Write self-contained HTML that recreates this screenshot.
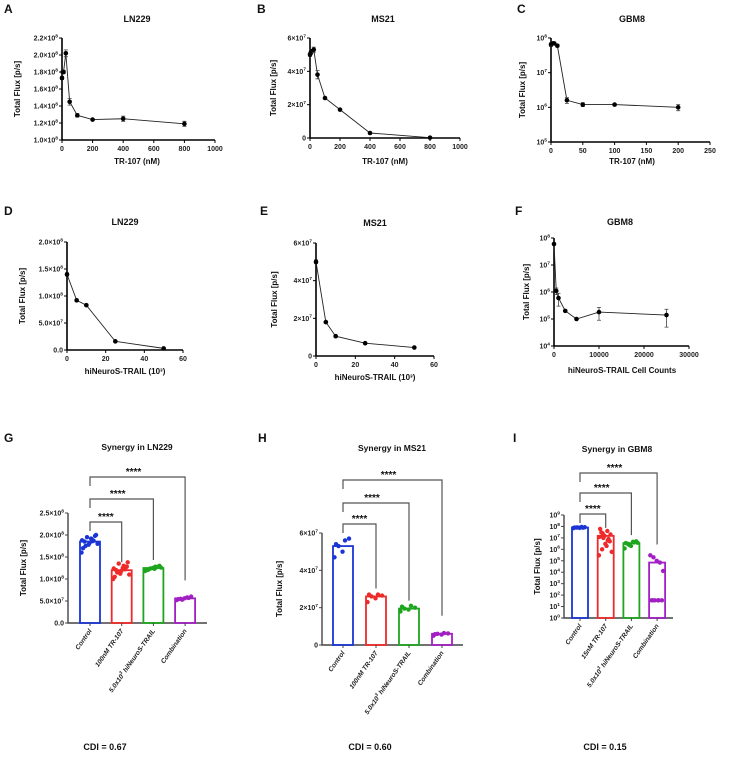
<!DOCTYPE html>
<html><head><meta charset="utf-8">
<style>
html,body{margin:0;padding:0;background:#fff;}
svg{display:block;font-family:"Liberation Sans",Arial,sans-serif;}
</style></head>
<body>
<svg id="fig" width="731" height="765" viewBox="0 0 731 765" xmlns="http://www.w3.org/2000/svg"></svg>
<script>
// ---------- DATA ----------
const aX=[0,5,10,25,50,100,200,400,800];
const aY=[1.73e8,1.80e8,1.80e8,2.02e8,1.45e8,1.29e8,1.24e8,1.25e8,1.19e8];
const aE=[0.02e8,0.02e8,0.02e8,0.04e8,0.04e8,0.02e8,0.01e8,0.03e8,0.03e8];
const aYT=["1.0×10^8","1.2×10^8","1.4×10^8","1.6×10^8","1.8×10^8","2.0×10^8","2.2×10^8"];
const aYV=[1.0e8,1.2e8,1.4e8,1.6e8,1.8e8,2.0e8,2.2e8];
const aXT=[0,200,400,600,800,1000];

const bX=[0,5,10,25,50,100,200,400,800];
const bY=[5.0e7,5.1e7,5.2e7,5.3e7,3.8e7,2.4e7,1.7e7,0.3e7,0.02e7];
const bE=[0.1e7,0.1e7,0.1e7,0.15e7,0.25e7,0.05e7,0.05e7,0.05e7,0.02e7];
const bYT=["0","2×10^7","4×10^7","6×10^7"];
const bYV=[0,2e7,4e7,6e7];
const bXT=[0,200,400,600,800,1000];

const cX=[0,2.5,5,10,25,50,100,200];
const cY=[6.5e7,7.0e7,7.0e7,6.0e7,1.6e6,1.2e6,1.2e6,1.0e6];
const cE=[0.8e7,0.8e7,0.5e7,0.5e7,0.3e6,0.15e6,0.1e6,0.2e6];
const cYT=["10^5","10^6","10^7","10^8"];
const cYV=[1e5,1e6,1e7,1e8];
const cXT=[0,50,100,150,200,250];

const dX=[0,5,10,25,50];
const dY=[1.40e8,0.92e8,0.83e8,0.16e8,0.03e8];
const dE=[0.03e8,0.02e8,0.02e8,0.01e8,0.01e8];
const dYT=["0.0","5.0×10^7","1.0×10^8","1.5×10^8","2.0×10^8"];
const dYV=[0,0.5e8,1.0e8,1.5e8,2.0e8];
const dXT=[0,20,40,60];

const eX=[0,5,10,25,50];
const eY=[5.0e7,1.8e7,1.05e7,0.68e7,0.45e7];
const eE=[0.1e7,0.05e7,0.05e7,0.03e7,0.03e7];
const eYT=["0","2×10^7","4×10^7","6×10^7"];
const eYV=[0,2e7,4e7,6e7];
const eXT=[0,20,40,60];

const fX=[0,500,1000,2500,5000,10000,25000];
const fY=[6e7,1.1e6,6e5,2e5,1e5,1.8e5,1.4e5];
const fE=[0.5e7,0.3e6,0.3e6,0.08e5,0.05e5,0.9e5,0.9e5];
const fYT=["10^4","10^5","10^6","10^7","10^8"];
const fYV=[1e4,1e5,1e6,1e7,1e8];
const fXT=[0,10000,20000,30000];

const gCats=["Control","100nM TR-107","5.0x10^3 hiNeuroS-TRAIL","Combination"];
const gMeans=[1.85e8,1.20e8,1.25e8,5.6e7];
const gDots=[[1.6e8,1.9e8,1.75e8,2.0e8,1.82e8,1.7e8,1.87e8,1.95e8,1.8e8,1.92e8,1.85e8,1.98e8,1.78e8,1.88e8,1.86e8],
 [1.0e8,1.3e8,1.15e8,1.38e8,1.18e8,1.05e8,1.22e8,1.35e8,1.1e8,1.25e8,1.2e8,1.28e8,1.12e8,1.24e8],
 [1.18e8,1.28e8,1.22e8,1.3e8,1.25e8,1.2e8,1.27e8,1.24e8,1.26e8,1.23e8,1.21e8],
 [5.2e7,5.8e7,5.5e7,6.0e7,5.6e7,5.4e7,5.7e7,5.3e7]];
const gYT=["0.0","5.0×10^7","1.0×10^8","1.5×10^8","2.0×10^8","2.5×10^8"];
const gYV=[0,0.5e8,1.0e8,1.5e8,2.0e8,2.5e8];

const hCats=["Control","100nM TR-107","5.0x10^3 hiNeuroS-TRAIL","Combination"];
const hMeans=[5.3e7,2.6e7,1.95e7,6.0e6];
const hDots=[[4.7e7,5.6e7,5.3e7,5.7e7,5.0e7,5.4e7],[2.3e7,2.7e7,2.6e7,2.65e7,2.5e7,2.7e7],[1.8e7,2.1e7,1.95e7,2.0e7,1.9e7,2.05e7],[5.0e6,6.4e6,6.0e6,6.2e6,5.6e6,5.8e6]];
const hYT=["0","2×10^7","4×10^7","6×10^7"];
const hYV=[0,2e7,4e7,6e7];

const iCats=["Control","15nM TR-107","5.0x10^3 hiNeuroS-TRAIL","Combination"];
const iMeans=[8e7,1.5e7,3.5e6,7e4];
const iDots=[[7e7,9e7,8e7,8.5e7,7.5e7,8e7,7.8e7,8.2e7],
 [3e5,4e7,1e6,2e7,3e6,6e7,8e6,1e7,6e5,2e6,3e7,5e6,1.5e7,1.2e7,6e6,2.5e7],
 [1.2e6,4.5e6,3e6,5e6,2e6,3.5e6,4e6,2.5e6,3.8e6],
 [3e5,35,2e5,35,1e5,35,7e4,35,1.3e4,35,35]];
const iYT=["10^0","10^1","10^2","10^3","10^4","10^5","10^6","10^7","10^8","10^9"];
const iYV=[1,1e1,1e2,1e3,1e4,1e5,1e6,1e7,1e8,1e9];

// ---------- HELPERS ----------
const NS="http://www.w3.org/2000/svg";
const svg=document.getElementById('fig');
function mk(tag,attrs,parent){const e=document.createElementNS(NS,tag);for(const k in attrs)e.setAttribute(k,attrs[k]);(parent||svg).appendChild(e);return e;}
function sciText(parent,x,y,str,size,anchor){
  const t=mk('text',{x:x,y:y,'font-size':size,'font-weight':'bold','text-anchor':anchor||'end',fill:'#222'},parent);
  const parts=str.split('^');
  t.appendChild(document.createTextNode(parts[0]));
  if(parts.length>1){const s=mk('tspan',{'font-size':size*0.7,dy:-size*0.45},t);s.textContent=parts[1];}
  return t;
}
function scaleLin(d0,d1,r0,r1){return v=>r0+(v-d0)/(d1-d0)*(r1-r0);}
function scaleLog(d0,d1,r0,r1){return v=>r0+(Math.log10(Math.max(v,1e-9))-Math.log10(d0))/(Math.log10(d1)-Math.log10(d0))*(r1-r0);}
function label(x,y,s,size,anchor,name,rot){
  const t=mk('text',{x:x,y:y,'font-size':size,'font-weight':'bold','text-anchor':anchor||'middle',fill:'#111'});
  if(rot)t.setAttribute('transform','rotate('+rot+' '+x+' '+y+')');
  t.textContent=s;
  
  
  return t;
}

function linePanel(c){
  const g=mk('g',{});
  
  
  const X=scaleLin(c.xmin,c.xmax,c.x0,c.x1);
  const Y=c.log?scaleLog(c.ymin,c.ymax,c.yb,c.yt):scaleLin(c.ymin,c.ymax,c.yb,c.yt);
  const ax=mk('path',{d:`M${c.x0},${c.yt}V${c.yb}H${c.x1}`,stroke:'#000','stroke-width':1.6,fill:'none'},g);
  
  
  c.yv.forEach((v,i)=>{const y=Y(v);mk('line',{x1:c.x0-3,x2:c.x0,y1:y,y2:y,stroke:'#000','stroke-width':1},g);sciText(g,c.x0-4,y+2.5,c.yt_[i],7);});
  c.xt.forEach(v=>{const x=X(v);mk('line',{x1:x,x2:x,y1:c.yb,y2:c.yb+3,stroke:'#000','stroke-width':1},g);const t=mk('text',{x:x,y:c.yb+11,'font-size':7,'font-weight':'bold','text-anchor':'middle',fill:'#222'},g);t.textContent=v;});
  let d='';c.xs.forEach((v,i)=>{d+=(i?'L':'M')+X(v)+','+Y(c.ys[i]);});
  const ln=mk('path',{d:d,stroke:'#222','stroke-width':0.9,fill:'none'},g);
  
  
  c.xs.forEach((v,i)=>{
    const x=X(v),y=Y(c.ys[i]),y1=Y(c.ys[i]+c.es[i]),y2=Y(Math.max(c.ys[i]-c.es[i],c.log?c.ymin:0));
    mk('path',{d:`M${x-2},${y1}H${x+2}M${x},${y1}V${y2}M${x-2},${y2}H${x+2}`,stroke:'#444','stroke-width':0.8,fill:'none'},g);
    const p=mk('circle',{cx:x,cy:y,r:2.3,fill:'#000'},g);
    
    
  });
  label(c.tx,c.ty,c.title,9,'middle','panel-title');
  label(c.xtx,c.xty,c.xtitle,8,'middle','x-axis-title');
  label(c.ytx,(c.yt+c.yb)/2,'Total Flux [p/s]',8,'middle','y-axis-title',-90);
}

const colors=['#1a35d6','#ee2a2a','#1ea51e','#a21fc4'];
function barPanel(c){
  const g=mk('g',{});
  
  
  const Y=c.log?scaleLog(c.ymin,c.ymax,c.yb,c.yt):scaleLin(c.ymin,c.ymax,c.yb,c.yt);
  const ax=mk('path',{d:`M${c.x0},${c.yt}V${c.yb}H${c.x1}`,stroke:'#444','stroke-width':1.4,fill:'none'},g);
  
  
  c.yv.forEach((v,i)=>{const y=Y(v);mk('line',{x1:c.x0-3,x2:c.x0,y1:y,y2:y,stroke:'#444','stroke-width':1},g);sciText(g,c.x0-4,y+2.5,c.yt_[i],7);});
  c.cats.forEach((cat,i)=>{
    const cx=c.cx[0]+i*c.step,w=c.bw,top=Y(c.means[i]);
    const b=mk('rect',{x:cx-w/2,y:top,width:w,height:c.yb-top,fill:'none',stroke:colors[i],'stroke-width':1.8},g);
    
    
    c.dots[i].forEach((v,j)=>{
      const dx=(((j*0.618034)%1)-0.5)*w*0.85;
      const dt=mk('circle',{cx:cx+dx,cy:Y(v),r:2.2,fill:colors[i]},g);
      
      
    });
    mk('line',{x1:cx,x2:cx,y1:c.yb,y2:c.yb+3,stroke:'#444'},g);
    const tx=cx+2,ty=c.yb+8;
    const t=mk('text',{x:tx,y:ty,'font-size':6.6,'font-weight':'bold','font-style':'italic','text-anchor':'end',fill:'#222',transform:`rotate(-55 ${tx} ${ty})`},g);
    const parts=cat.split('^');
    if(parts.length>1){t.appendChild(document.createTextNode(parts[0]));const s=mk('tspan',{'font-size':4.6,dy:-3},t);s.textContent=parts[1].slice(0,1);const r=mk('tspan',{dy:3},t);r.textContent=parts[1].slice(1);}
    else t.textContent=cat;
    
    
  });
  const c0=c.cx[0];
  c.br.forEach((by,k)=>{
    const tx=c0+(k+1)*c.step;
    const p=mk('path',{d:`M${c0},${by+9}V${by}H${tx}V${Y(c.means[k+1])-(k==2?18:8)}`,stroke:'#555','stroke-width':1.2,fill:'none'},g);
    
    
    const s=mk('text',{x:(c0+tx)/2-(k==0?0:4),y:by-2,'font-size':10,'font-weight':'bold','text-anchor':'middle',fill:'#111'},g);
    s.textContent='****';
    
    
  });
  label(c.tx,c.ty,c.title,8.5,'middle','panel-title');
  label(c.ytx,(c.yt+c.yb)/2,'Total Flux [p/s]',8,'middle','y-axis-title',-90);
}

// ---------- ROW 1 ----------
linePanel({name:'panel-a',x0:62,x1:215,xmin:0,xmax:1000,yb:140,yt:38,ymin:1.0e8,ymax:2.2e8,xs:aX,ys:aY,es:aE,yv:aYV,yt_:aYT,xt:aXT,title:'LN229',tx:137,ty:22,xtitle:'TR-107 (nM)',xtx:137,xty:164,ytx:20});
linePanel({name:'panel-b',x0:310,x1:460,xmin:0,xmax:1000,yb:138,yt:38,ymin:0,ymax:6e7,xs:bX,ys:bY,es:bE,yv:bYV,yt_:bYT,xt:bXT,title:'MS21',tx:383,ty:22,xtitle:'TR-107 (nM)',xtx:385,xty:164,ytx:276});
linePanel({name:'panel-c',x0:551,x1:710,xmin:0,xmax:250,log:true,yb:142,yt:38,ymin:1e5,ymax:1e8,xs:cX,ys:cY,es:cE,yv:cYV,yt_:cYT,xt:cXT,title:'GBM8',tx:632,ty:22,xtitle:'TR-107 (nM)',xtx:632,xty:164,ytx:525});
// ---------- ROW 2 ----------
linePanel({name:'panel-d',x0:67,x1:183,xmin:0,xmax:60,yb:350,yt:242,ymin:0,ymax:2e8,xs:dX,ys:dY,es:dE,yv:dYV,yt_:dYT,xt:dXT,title:'LN229',tx:125,ty:225,xtitle:'hiNeuroS-TRAIL (10³)',xtx:125,xty:374,ytx:25});
linePanel({name:'panel-e',x0:316,x1:434,xmin:0,xmax:60,yb:356,yt:243,ymin:0,ymax:6e7,xs:eX,ys:eY,es:eE,yv:eYV,yt_:eYT,xt:eXT,title:'MS21',tx:375,ty:226,xtitle:'hiNeuroS-TRAIL (10³)',xtx:375,xty:380,ytx:277});
linePanel({name:'panel-f',x0:554,x1:689,xmin:0,xmax:30000,log:true,yb:346,yt:238,ymin:1e4,ymax:1e8,xs:fX,ys:fY,es:fE,yv:fYV,yt_:fYT,xt:fXT,title:'GBM8',tx:620,ty:225,xtitle:'hiNeuroS-TRAIL Cell Counts',xtx:622,xty:373,ytx:529});
// ---------- ROW 3 ----------
barPanel({name:'panel-g',x0:68,x1:207,yb:623,yt:513,ymin:0,ymax:2.5e8,cats:gCats,means:gMeans,dots:gDots,yv:gYV,yt_:gYT,cx:[90],step:31.7,bw:20,br:[522,499,477],title:'Synergy in LN229',tx:137,ty:450,ytx:26});
barPanel({name:'panel-h',x0:322,x1:463,yb:645,yt:533,ymin:0,ymax:6e7,cats:hCats,means:hMeans,dots:hDots,yv:hYV,yt_:hYT,cx:[343],step:33,bw:20,br:[524,503,480],title:'Synergy in MS21',tx:392,ty:451,ytx:282});
barPanel({name:'panel-i',x0:564,x1:673,log:true,yb:618,yt:515,ymin:1,ymax:1e9,cats:iCats,means:iMeans,dots:iDots,yv:iYV,yt_:iYT,cx:[580],step:25.7,bw:16,br:[514,493,473],title:'Synergy in GBM8',tx:617,ty:452,ytx:540});

// panel letters
[['A',4,13],['B',257,13],['C',517,13],['D',4,215],['E',260,215],['F',515,215],['G',4,442],['H',258,442],['I',513,442]].forEach(l=>{
  const t=label(l[1],l[2],l[0],12,'start','panel-letter');
});
// CDI labels
label(105,750,'CDI = 0.67',9,'middle','cdi-label');
label(370,750,'CDI = 0.60',9,'middle','cdi-label');
label(605,750,'CDI = 0.15',9,'middle','cdi-label');
</script>
</body></html>
